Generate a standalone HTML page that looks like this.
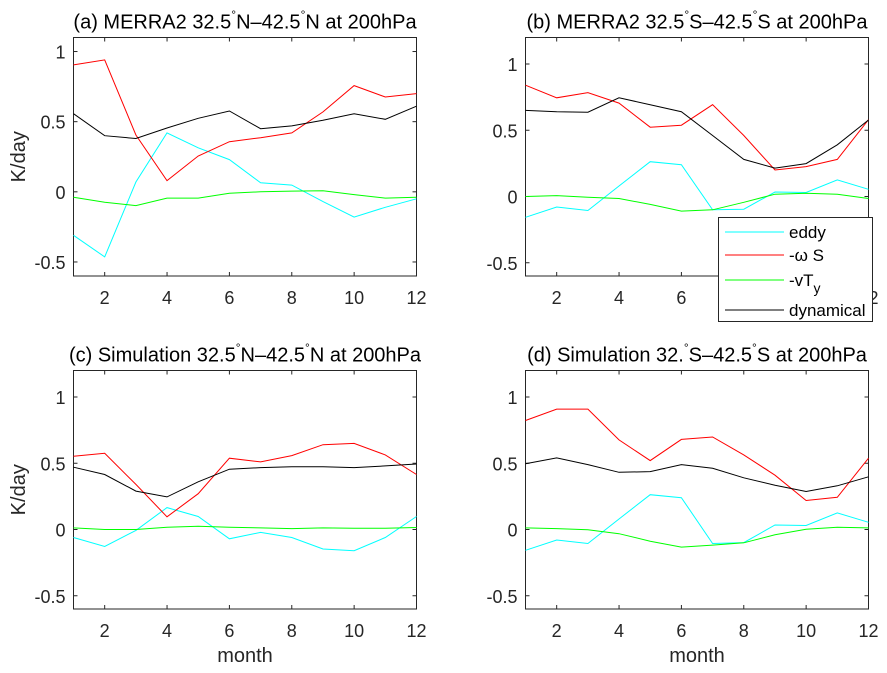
<!DOCTYPE html>
<html><head><meta charset="utf-8"><style>
body{margin:0;background:#fff}
svg{display:block;font-family:"Liberation Sans",sans-serif}
</style></head><body>
<svg id="chart" width="887" height="673" viewBox="0 0 887 673"></svg>
<script>
const months=[1,2,3,4,5,6,7,8,9,10,11,12];
const xTicks=[2,4,6,8,10,12];
const yTicksA=[-0.5,0,0.5,1];
const yTickLabels=["-0.5","0","0.5","1"];
const aEddy=[-0.31,-0.464,0.07,0.42,0.314,0.23,0.064,0.048,-0.07,-0.18,-0.11,-0.05];
const aOmega=[0.905,0.94,0.405,0.08,0.255,0.357,0.386,0.42,0.57,0.757,0.676,0.70];
const aVT=[-0.038,-0.074,-0.098,-0.045,-0.045,-0.01,0,0.005,0.007,-0.02,-0.045,-0.038];
const aDyn=[0.557,0.40,0.38,0.455,0.524,0.576,0.45,0.47,0.51,0.557,0.517,0.61];
const bEddy=[-0.157,-0.079,-0.106,0.079,0.263,0.24,-0.1,-0.096,0.034,0.03,0.125,0.054];
const bOmega=[0.84,0.745,0.784,0.705,0.523,0.538,0.693,0.46,0.2,0.226,0.28,0.58];
const bVT=[0,0.007,-0.005,-0.015,-0.06,-0.11,-0.1,-0.044,0.017,0.025,0.017,-0.015];
const bDyn=[0.65,0.64,0.636,0.745,0.693,0.64,0.46,0.28,0.214,0.248,0.39,0.577];
const cEddy=[-0.06,-0.128,-0.007,0.165,0.098,-0.07,-0.022,-0.06,-0.147,-0.16,-0.06,0.098];
const cOmega=[0.553,0.575,0.34,0.096,0.27,0.538,0.51,0.558,0.64,0.65,0.563,0.415];
const cVT=[0.012,0,0,0.017,0.025,0.017,0.012,0.007,0.012,0.01,0.01,0.015];
const cDyn=[0.47,0.415,0.29,0.246,0.36,0.455,0.467,0.474,0.474,0.467,0.48,0.494];
const dEddy=[-0.157,-0.079,-0.106,0.079,0.263,0.24,-0.106,-0.099,0.034,0.03,0.125,0.054];
const dOmega=[0.823,0.909,0.909,0.676,0.52,0.68,0.698,0.563,0.41,0.219,0.243,0.538];
const dVT=[0.012,0.007,-0.002,-0.032,-0.088,-0.133,-0.118,-0.1,-0.04,0.002,0.017,0.012];
const dDyn=[0.496,0.54,0.49,0.432,0.437,0.49,0.462,0.39,0.334,0.287,0.33,0.398];

const NS="http://www.w3.org/2000/svg";
const svg=document.getElementById('chart');
function mk(tag,attrs,parent){const e=document.createElementNS(NS,tag);for(const k in attrs)e.setAttribute(k,attrs[k]);(parent||svg).appendChild(e);return e;}
const colors={eddy:"#00ffff",omega:"#ff0000",vt:"#00ff00",dyn:"#000000"};
const panels=[
 {id:"a",x0:73.5,x1:416.5,y0:37.5,y1:276,ymin:-0.6,ymax:1.1,title:["(a) MERRA2 32.5","N–42.5","N at 200hPa"],s:[aEddy,aOmega,aVT,aDyn],ylab:true,xlab:false},
 {id:"b",x0:525.5,x1:868.5,y0:37.5,y1:276,ymin:-0.6,ymax:1.2,title:["(b) MERRA2 32.5","S–42.5","S at 200hPa"],s:[bEddy,bOmega,bVT,bDyn],ylab:false,xlab:false},
 {id:"c",x0:73.5,x1:416.5,y0:370.5,y1:609,ymin:-0.6,ymax:1.2,title:["(c) Simulation 32.5","N–42.5","N at 200hPa"],s:[cEddy,cOmega,cVT,cDyn],ylab:true,xlab:true},
 {id:"d",x0:525.5,x1:868.5,y0:370.5,y1:609,ymin:-0.6,ymax:1.2,title:["(d) Simulation 32.","S–42.5","S at 200hPa"],s:[dEddy,dOmega,dVT,dDyn],ylab:false,xlab:true}
];
const keys=["eddy","omega","vt","dyn"];
panels.forEach(p=>{
 const g=mk('g',{});
 
 
 const X=v=>p.x0+(v-1)/11*(p.x1-p.x0);
 const Y=v=>p.y1-(v-p.ymin)/(p.ymax-p.ymin)*(p.y1-p.y0);
 const box=mk('rect',{x:p.x0,y:p.y0,width:p.x1-p.x0,height:p.y1-p.y0,fill:"#fff",stroke:"#262626","stroke-width":1},g);
 
 
 xTicks.forEach(t=>{
  const x=X(t);
  mk('line',{x1:x,x2:x,y1:p.y1,y2:p.y1-4,stroke:"#262626"},g);
  mk('line',{x1:x,x2:x,y1:p.y0,y2:p.y0+4,stroke:"#262626"},g);
  const tx=mk('text',{x:x,y:p.y1+28,"text-anchor":"middle","font-size":18,fill:"#262626"},g);
  tx.textContent=t;
  
  
 });
 yTicksA.forEach((t,i)=>{
  const y=Y(t);
  mk('line',{x1:p.x0,x2:p.x0+4,y1:y,y2:y,stroke:"#262626"},g);
  mk('line',{x1:p.x1,x2:p.x1-4,y1:y,y2:y,stroke:"#262626"},g);
  const ty=mk('text',{x:p.x0-8,y:y+7,"text-anchor":"end","font-size":18,fill:"#262626"},g);
  ty.textContent=yTickLabels[i];
  
  
 });
 p.s.forEach((arr,si)=>{
  const pts=arr.map((v,i)=>X(months[i]).toFixed(1)+","+Y(v).toFixed(1)).join(" ");
  const pl=mk('polyline',{points:pts,fill:"none",stroke:colors[keys[si]],"stroke-width":1},g);
  
  
 });
 const tt=mk('text',{x:(p.x0+p.x1)/2,y:p.y0-9,"text-anchor":"middle","font-size":20,fill:"#000"},g);
 const parts=p.title;
 const t1=mk('tspan',{},tt);t1.textContent=parts[0];
 const d1=mk('tspan',{dy:-10,"font-size":12},tt);d1.textContent="°";
 const t2=mk('tspan',{dy:10},tt);t2.textContent=parts[1];
 const d2=mk('tspan',{dy:-10,"font-size":12},tt);d2.textContent="°";
 const t3=mk('tspan',{dy:10},tt);t3.textContent=parts[2];
 
 
 if(p.ylab){
  const cy=(p.y0+p.y1)/2;
  const yl=mk('text',{x:0,y:0,transform:`translate(25,${cy}) rotate(-90)`,"text-anchor":"middle","font-size":20,fill:"#262626"},g);
  yl.textContent="K/day";
  
  
 }
 if(p.xlab){
  const xl=mk('text',{x:(p.x0+p.x1)/2,y:p.y1+53,"text-anchor":"middle","font-size":20,fill:"#262626"},g);
  xl.textContent="month";
  
  
 }
});
// legend
const lg=mk('g',{});


mk('rect',{x:718.5,y:217.5,width:154,height:104,fill:"#fff",stroke:"#262626","stroke-width":1},lg);
const legLabels=["eddy","-\u03C9 S","-vT","dynamical"];
const rowY=[232,255,280,310];
keys.forEach((k,i)=>{
 mk('line',{x1:725,x2:784,y1:rowY[i],y2:rowY[i],stroke:colors[k],"stroke-width":1},lg);
 const t=mk('text',{x:789,y:rowY[i]+6,"font-size":17,fill:"#000"},lg);
 t.textContent=legLabels[i];
 if(k==="vt"){const s=mk('tspan',{dy:7,"font-size":14},t);s.textContent="y";}
 
 
});
</script>
</body></html>
